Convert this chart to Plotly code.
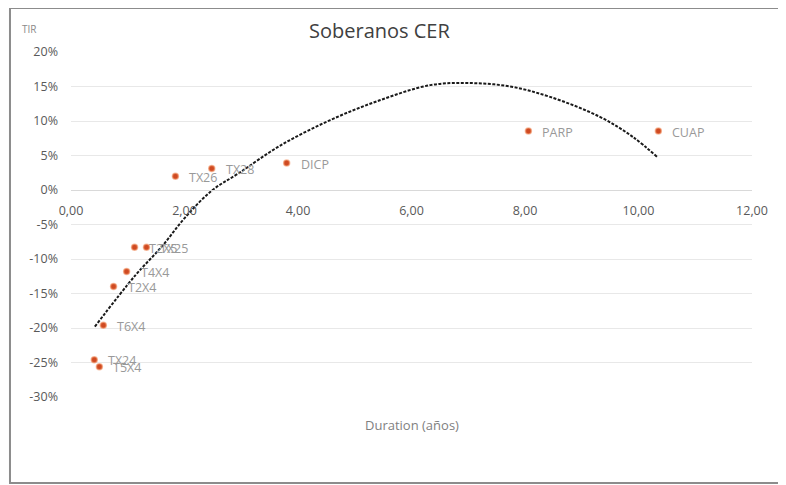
import plotly.graph_objects as go

# Bond data (duration in years, TIR)
bonds = ["TX24", "T5X4", "T6X4", "T2X4", "T4X4", "T2X5", "TX25", "TX26", "TX28", "DICP", "PARP", "CUAP"]
duration = [0.41, 0.50, 0.57, 0.75, 0.98, 1.12, 1.33, 1.84, 2.48, 3.80, 8.06, 10.35]
tir = [-0.246, -0.256, -0.196, -0.140, -0.118, -0.083, -0.083, 0.020, 0.031, 0.039, 0.0855, 0.0855]

# Trendline points
trend_x = [0.42, 1.13, 1.60, 2.01, 2.48, 2.95, 3.68, 4.56, 5.44, 6.33, 7.03, 7.74, 8.44, 9.32, 9.90, 10.34]
trend_y = [-0.198, -0.124, -0.082, -0.040, -0.001, 0.024, 0.064, 0.101, 0.130, 0.152, 0.155, 0.150, 0.135, 0.106, 0.077, 0.047]

# Axis ticks
y_ticks = [0.20, 0.15, 0.10, 0.05, 0.0, -0.05, -0.10, -0.15, -0.20, -0.25, -0.30]
y_tick_labels = ["20%", "15%", "10%", "5%", "0%", "-5%", "-10%", "-15%", "-20%", "-25%", "-30%"]
x_ticks = [0, 2, 4, 6, 8, 10, 12]
x_tick_labels = ["0,00", "2,00", "4,00", "6,00", "8,00", "10,00", "12,00"]

FONT = "Open Sans"

fig = go.Figure()

fig.add_trace(go.Scatter(
    x=trend_x, y=trend_y, mode="lines",
    line=dict(color="#1a1a1a", width=2, dash="3px,1.5px", shape="spline", smoothing=1.0),
    hoverinfo="skip", showlegend=False,
))

fig.add_trace(go.Scatter(
    x=duration, y=tir, mode="markers",
    marker=dict(size=6, color="#CF4A22", line=dict(color="rgba(242,150,105,0.6)", width=1.5)),
    showlegend=False,
))

annotations = []
for name, dx, ty in zip(bonds, duration, tir):
    annotations.append(dict(
        x=dx, y=ty, xref="x", yref="y", text=name, showarrow=False,
        xanchor="left", yanchor="middle", xshift=12, yshift=-1,
        font=dict(family=FONT, size=12.5, color="#999999"),
    ))

annotations += [
    dict(x=0.4537, y=1.061, xref="paper", yref="paper", text="Soberanos CER",
         showarrow=False, xanchor="center", yanchor="middle",
         font=dict(family=FONT, size=20, color="#404040")),
    dict(x=-0.0617, y=1.0667, xref="paper", yref="paper", text="TIR",
         showarrow=False, xanchor="center", yanchor="middle",
         font=dict(family=FONT, size=10, color="#8a8a8a")),
    dict(x=0.5007, y=-0.0812, xref="paper", yref="paper", text="Duration (años)",
         showarrow=False, xanchor="center", yanchor="middle",
         font=dict(family=FONT, size=13, color="#7f7f7f")),
]

# Page body has an 8px margin, so the figure is sized and offset to fit the window
fig.update_layout(
    width=778, height=477,
    margin=dict(l=63, r=34, t=44, b=88),
    paper_bgcolor="white", plot_bgcolor="white",
    showlegend=False,
    annotations=annotations,
    shapes=[dict(type="rect", xref="paper", yref="paper",
                 x0=-0.0896, x1=1.0455, y0=-0.2493, y1=1.1275,
                 line=dict(color="#8c8c8c", width=2), fillcolor="rgba(0,0,0,0)", layer="below")],
)

fig.update_xaxes(
    range=[0, 12], tickvals=x_ticks, ticktext=x_tick_labels,
    anchor="free", position=0.6,
    showgrid=False, zeroline=False,
    showline=True, linecolor="#d9d9d9", linewidth=1,
    ticks="", ticklabelstandoff=9,
    tickfont=dict(family=FONT, size=12.5, color="#595959"),
)

fig.update_yaxes(
    range=[-0.30, 0.20], tickvals=y_ticks, ticktext=y_tick_labels,
    showgrid=True, gridcolor="#e8e8e8", gridwidth=1,
    zeroline=False, showline=False, ticks="", ticklabelstandoff=12,
    tickfont=dict(family=FONT, size=12.5, color="#595959"),
)

fig.write_html("out.html")
